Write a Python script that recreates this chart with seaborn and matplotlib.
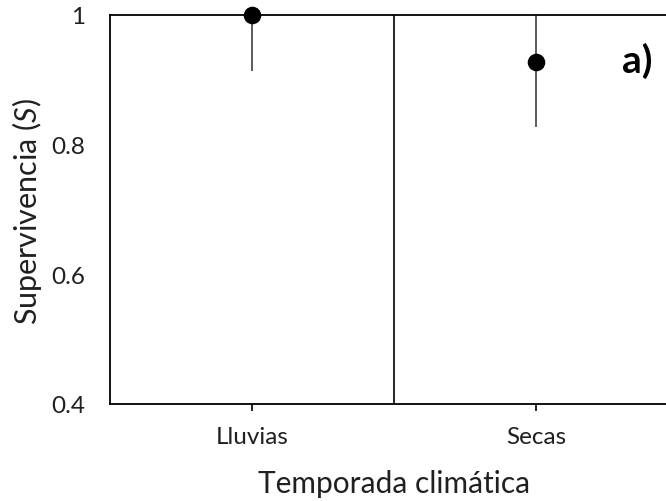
import matplotlib
matplotlib.use("Agg")
import matplotlib.pyplot as plt
import seaborn as sns
import pandas as pd

temporadas = ["Lluvias", "Secas"]
supervivencia = [1.0, 0.928]
ic_inferior = [0.913, 0.828]
ic_superior = [1.0, 1.0]
y_ticks = [0.4, 0.6, 0.8, 1.0]
y_tick_labels = ["0.4", "0.6", "0.8", "1"]

df = pd.DataFrame({"temporada": temporadas, "S": supervivencia,
                   "lo": ic_inferior, "hi": ic_superior})

sns.set_theme(style="white")
plt.rcParams["font.family"] = ["Lato", "DejaVu Sans"]
plt.rcParams["mathtext.fontset"] = "custom"
plt.rcParams["mathtext.it"] = "Lato:italic"
plt.rcParams["mathtext.rm"] = "Lato"

fig = plt.figure(figsize=(6.66, 5.02), dpi=100)
ax = fig.add_axes([110 / 666, 97 / 502, 568 / 666, 389 / 502])

# confidence intervals
ax.vlines(range(len(temporadas)), df["lo"], df["hi"], color="#404040",
          linewidth=1.2, zorder=2)
sns.scatterplot(data=df, x="temporada", y="S", ax=ax, color="black",
                s=160, edgecolor="black", linewidth=0, zorder=3, clip_on=False)

# divider between seasons
ax.axvline(0.5, color="black", linewidth=1.2, zorder=1)

ax.set_xlim(-0.5, 1.5)
ax.set_ylim(0.4, 1.0)
ax.set_yticks(y_ticks)
ax.set_yticklabels(y_tick_labels)
ax.set_xticks(range(len(temporadas)))
ax.set_xticklabels(temporadas)

for side in ["left", "bottom", "top", "right"]:
    ax.spines[side].set_color("black")
    ax.spines[side].set_linewidth(1.3)

ax.tick_params(axis="x", which="both", bottom=True, length=5, width=1.2,
               color="black", pad=11, labelsize=17.5, labelcolor="#202020")
ax.tick_params(axis="y", which="both", left=False, length=0, pad=18,
               labelsize=17.5, labelcolor="#202020")

ax.set_xlabel("Temporada climática", fontsize=21.5, color="#202020")
ax.xaxis.label.set_va("baseline")
ax.xaxis.set_label_coords(394 / 666, 1 - 493 / 502, transform=fig.transFigure)

ax.set_ylabel("Supervivencia $\\mathit{(S)}$", fontsize=22, color="#202020")
ax.yaxis.set_label_coords(44 / 666, 1 - 211 / 502, transform=fig.transFigure)

fig.text(637 / 666, 1 - 61 / 502, "a)", fontsize=28, fontweight="bold",
         color="black", ha="center", va="center")

fig.savefig("out.png", dpi=100)
